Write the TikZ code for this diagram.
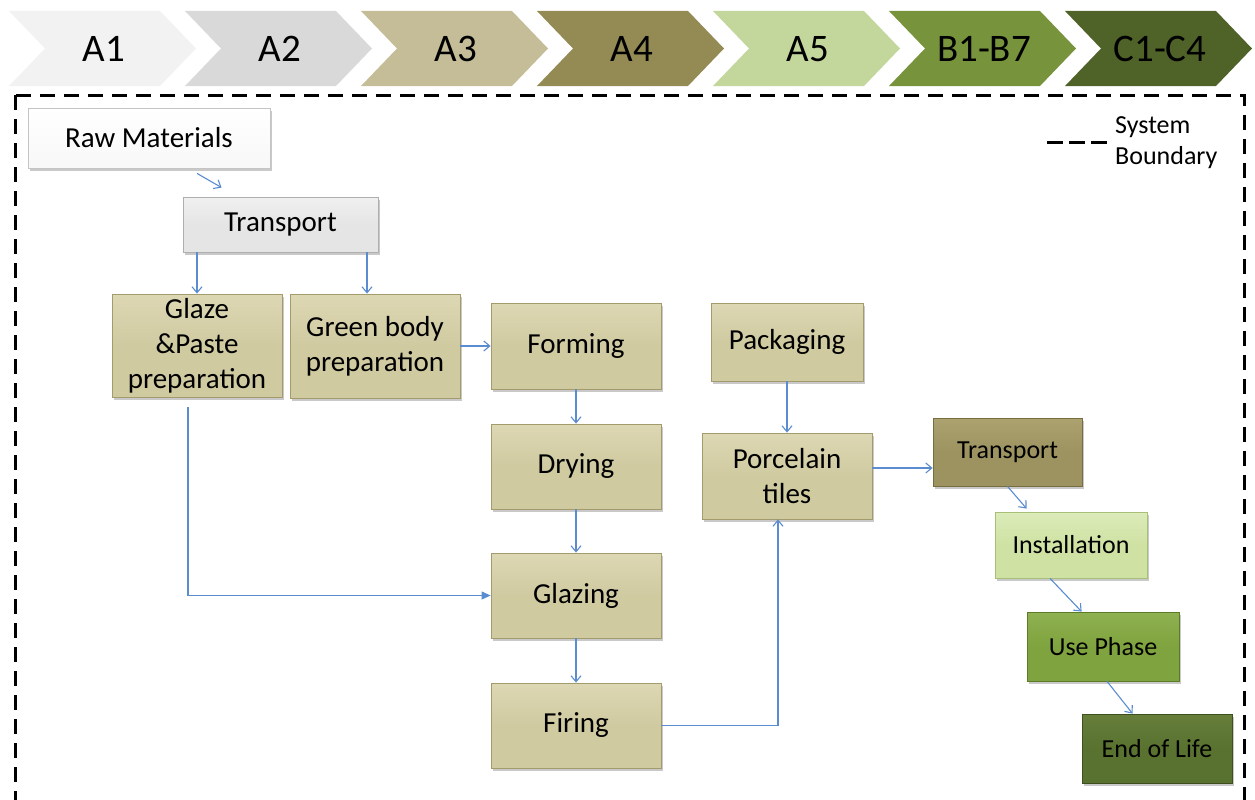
\documentclass[tikz,border=0pt]{standalone}
\usepackage{fontspec}
\setmainfont{Carlito}
\usetikzlibrary{arrows.meta,calc,shadows}
\definecolor{chAa}{HTML}{F2F2F2}
\definecolor{chAb}{HTML}{D9D9D9}
\definecolor{chAc}{HTML}{C4BD97}
\definecolor{chAd}{HTML}{948A54}
\definecolor{chAe}{HTML}{C3D69B}
\definecolor{chB}{HTML}{77933C}
\definecolor{chC}{HTML}{4F6228}
\definecolor{tanfill}{HTML}{CFCAA0}
\definecolor{tanlite}{HTML}{DDD8B4}
\definecolor{tanline}{HTML}{A39B6C}
\definecolor{olivefill}{HTML}{9D9360}
\definecolor{olivelite}{HTML}{ABA270}
\definecolor{oliveline}{HTML}{776D3E}
\definecolor{instfill}{HTML}{CFE2A3}
\definecolor{instlite}{HTML}{DCEBBA}
\definecolor{instline}{HTML}{A8BF78}
\definecolor{usefill}{HTML}{7FA33E}
\definecolor{uselite}{HTML}{8FB151}
\definecolor{useline}{HTML}{5C7B28}
\definecolor{eolfill}{HTML}{5A7230}
\definecolor{eollite}{HTML}{667E3A}
\definecolor{eolline}{HTML}{3D501D}
\definecolor{rawline}{HTML}{C4C4C4}
\definecolor{tronefill}{HTML}{E5E5E5}
\definecolor{tronelite}{HTML}{F0F0F0}
\definecolor{troneline}{HTML}{AFAFAF}
\definecolor{arrowblue}{HTML}{5B8CCF}
\tikzset{
  box/.style={draw, line width=0.8pt, inner sep=0pt, align=center,
    font=\fontsize{29}{35}\selectfont,
    execute at begin node={\vspace*{5pt}},
    drop shadow={shadow xshift=1.5pt, shadow yshift=-2.5pt, opacity=0.3, fill=black!70}},
  tanbox/.style={box, draw=tanline, top color=tanlite, bottom color=tanfill, middle color=tanfill},
  smallbox/.style={box, font=\fontsize{26}{31}\selectfont},
  arr/.style={draw=arrowblue, line width=1.1pt, -{Straight Barb[length=6pt,width=10pt]}},
  arrfill/.style={draw=arrowblue, line width=1.1pt, -{Triangle[length=9pt,width=8pt]}, arrowblue},
  bound/.style={line width=3pt, dash pattern=on 15pt off 9pt},
  chev/.style={font=\fontsize{39}{44}\selectfont}
}
\begin{document}
\begin{tikzpicture}[x=1pt,y=-1pt]
\useasboundingbox (0,0) rectangle (1255,800);
% chevrons
\foreach \i/\c in {0/chAa,1/chAb,2/chAc,3/chAd,4/chAe,5/chB,6/chC}{
  \pgfmathsetmacro{\l}{9+176*\i}
  \fill[\c] (\l,11) -- (\l+151,11) -- (\l+187,48.5) -- (\l+151,86) -- (\l,86) -- (\l+36,48.5) -- cycle;
}
\node[chev] (ca1) at (104,49) {A1};
\node[chev] (ca2) at (280,49) {A2};
\node[chev] (ca3) at (456,49) {A3};
\node[chev] (ca4) at (632,49) {A4};
\node[chev] (ca5) at (808,49) {A5};
\node[chev] (cb) at (984,49) {B1-B7};
\node[chev] (cc) at (1160,49) {C1-C4};
% boundary
\draw[bound] (15,95) rectangle (1244,830);
\draw[bound, dash pattern=on 16pt off 6pt] (1047,142) -- (1108,142);
\node[anchor=west, align=left, inner sep=0pt, font=\fontsize{26}{31}\selectfont] (legend) at (1115,143) {System\\Boundary};
% boxes
\node[box, draw=rawline, top color=white, bottom color=black!3, minimum width=242pt, minimum height=60pt] (raw) at (149,138) {Raw Materials};
\node[box, draw=troneline, top color=tronelite, bottom color=tronefill, middle color=tronefill, minimum width=195pt, minimum height=55pt] (trone) at (280.5,224.5) {Transport};
\node[tanbox, minimum width=170pt, minimum height=103pt] (glaze) at (197,345.5) {Glaze\\\&Paste\\preparation};
\node[tanbox, minimum width=170pt, minimum height=104pt] (green) at (375,346) {Green body\\preparation};
\node[tanbox, minimum width=170pt, minimum height=86pt] (forming) at (576,346) {Forming};
\node[tanbox, minimum width=170pt, minimum height=85pt] (drying) at (576,466.5) {Drying};
\node[tanbox, minimum width=170pt, minimum height=85pt] (glazing) at (576,595.5) {Glazing};
\node[tanbox, minimum width=170pt, minimum height=85pt] (firing) at (576,725.5) {Firing};
\node[tanbox, minimum width=152pt, minimum height=78pt] (packaging) at (787,342) {Packaging};
\node[tanbox, minimum width=170pt, minimum height=86pt] (porcelain) at (787,476) {Porcelain\\tiles};
\node[smallbox, draw=oliveline, top color=olivelite, bottom color=olivefill, middle color=olivefill, minimum width=149pt, minimum height=68pt] (trtwo) at (1007.5,452) {Transport};
\node[smallbox, draw=instline, top color=instlite, bottom color=instfill, middle color=instfill, minimum width=152pt, minimum height=66pt] (install) at (1071,545) {Installation};
\node[smallbox, draw=useline, top color=uselite, bottom color=usefill, middle color=usefill, minimum width=152pt, minimum height=69pt] (use) at (1103,646.5) {Use Phase};
\node[smallbox, draw=eolline, top color=eollite, bottom color=eolfill, middle color=eolfill, minimum width=150pt, minimum height=69pt] (eol) at (1157,748.5) {End of Life};
% connectors
\draw[arr] ($(raw.south)+(48,5)$) -- ($(trone.north west)+(39,-9)$);
\draw[arr] (glaze.north |- trone.south) -- (glaze.north);
\coordinate (gin) at ($(green.north)+(-8,0)$);
\draw[arr] (gin |- trone.south) -- (gin);
\draw[arr] (green.east) -- (forming.west);
\draw[arr] (forming.south) -- (drying.north);
\draw[arr] (drying.south) -- (glazing.north);
\draw[arr] (glazing.south) -- (firing.north);
\draw[arrfill] ($(glaze.south)+(-9,10)$) |- (glazing.west);
\coordinate (pin) at ($(porcelain.south)+(-9,0)$);
\draw[arr] (firing.east) -| (pin);
\draw[arr] (packaging.south) -- (porcelain.north);
\coordinate (pout) at ($(porcelain.east)+(0,-8)$);
\draw[arr] (pout) -- (trtwo.west |- pout);
\draw[arr] (trtwo.south) -- ($(install.north west)+(32,-3)$);
\draw[arr] ($(install.south)+(-21,0)$) -- ($(use.north west)+(55,0)$);
\draw[arr] ($(use.south)+(4,0)$) -- ($(eol.north west)+(51,0)$);
\end{tikzpicture}
\end{document}
